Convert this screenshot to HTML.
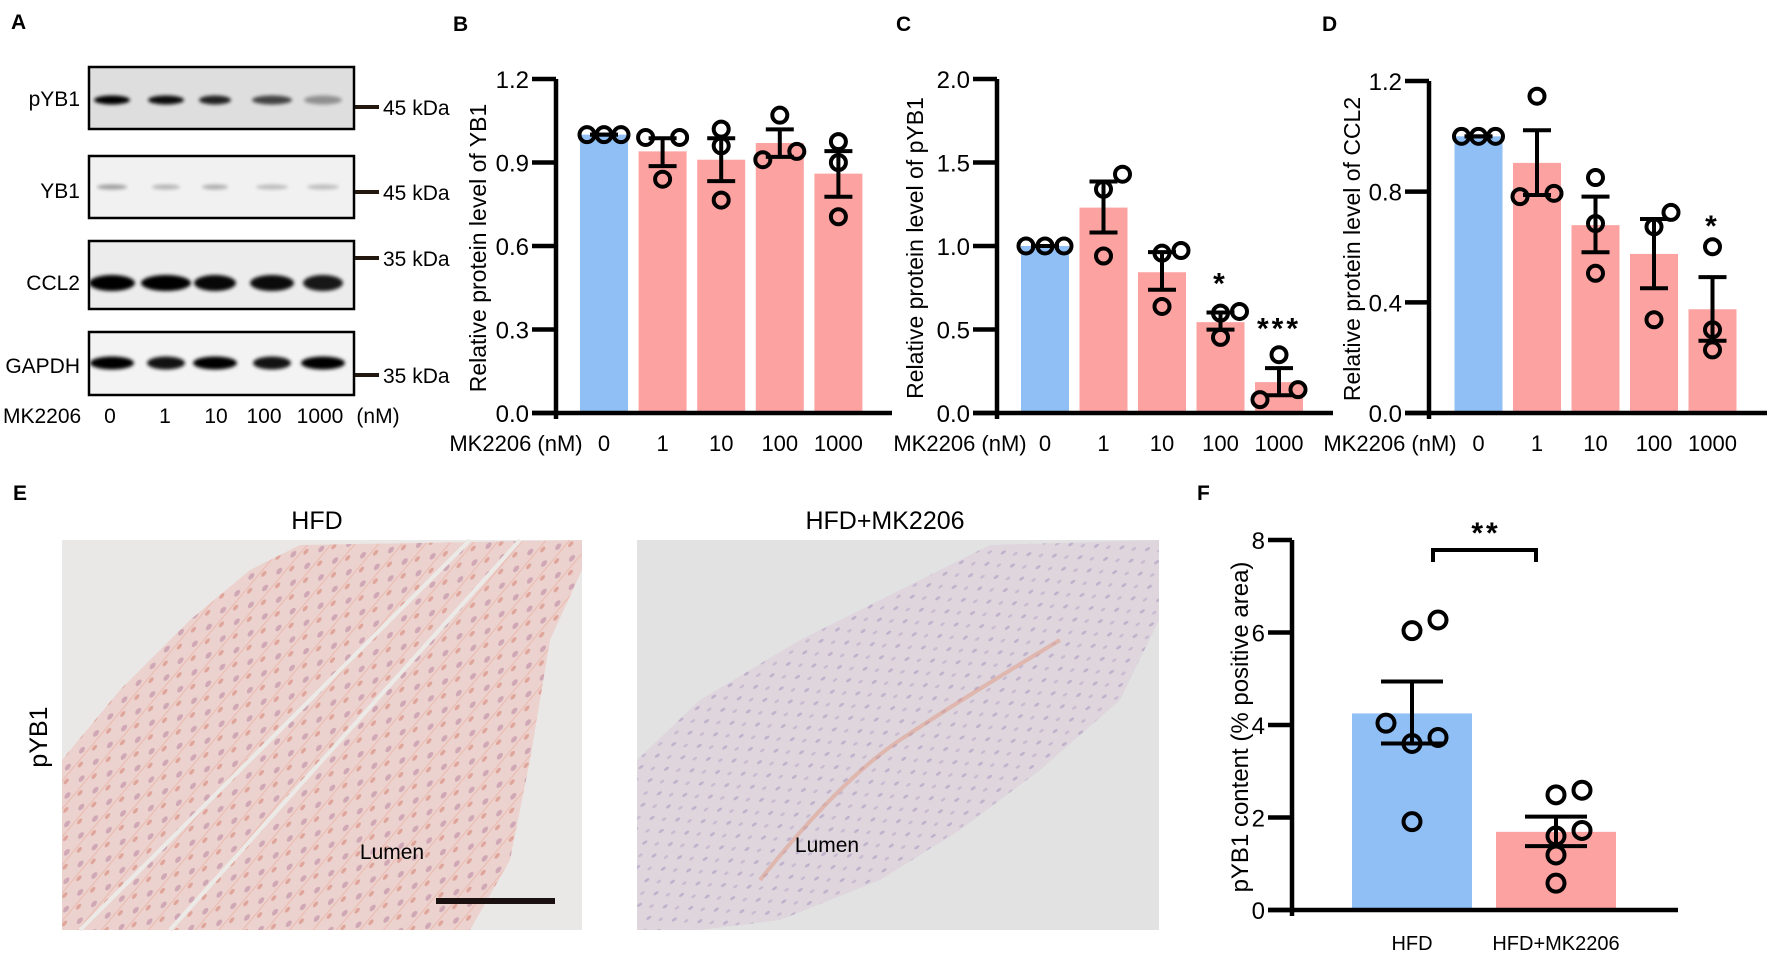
<!DOCTYPE html>
<html><head><meta charset="utf-8">
<style>
html,body{margin:0;padding:0;background:#fff;}
svg{display:block;font-family:"Liberation Sans",Arial,sans-serif;}
</style></head>
<body>
<svg id="fig" width="1772" height="954" viewBox="0 0 1772 954" xmlns="http://www.w3.org/2000/svg">
<defs>
  <filter id="blur2" x="-30%" y="-80%" width="160%" height="260%"><feGaussianBlur stdDeviation="1.8"/></filter>
  <pattern id="cellsPink" width="22" height="18" patternUnits="userSpaceOnUse" patternTransform="rotate(-50)">
    <rect width="22" height="18" fill="#ecd0cc"/>
    <ellipse cx="6" cy="5" rx="4" ry="2.2" fill="#b47a98" opacity="0.55"/>
    <ellipse cx="16" cy="13" rx="3.5" ry="1.8" fill="#cf6a58" opacity="0.5"/>
    <rect x="0" y="9" width="22" height="1.2" fill="#e8907a" opacity="0.4"/>
  </pattern>
  <pattern id="cellsLav" width="20" height="16" patternUnits="userSpaceOnUse" patternTransform="rotate(-35)">
    <rect width="20" height="16" fill="#ddd4dc"/>
    <ellipse cx="5" cy="4" rx="3" ry="1.4" fill="#9a84b8" opacity="0.5"/>
    <ellipse cx="14" cy="12" rx="2.6" ry="1.2" fill="#a890c0" opacity="0.45"/>
  </pattern>
  <clipPath id="clipB0"><rect x="89" y="67" width="265" height="62"/></clipPath>
  <clipPath id="clipB1"><rect x="89" y="156" width="265" height="62"/></clipPath>
  <clipPath id="clipB2"><rect x="89" y="241" width="265" height="68"/></clipPath>
  <clipPath id="clipB3"><rect x="89" y="332" width="265" height="63"/></clipPath>
</defs>

<text x="11" y="29" font-size="21" font-weight="bold">A</text>
<text x="453" y="31" font-size="21" font-weight="bold">B</text>
<text x="896" y="31" font-size="21" font-weight="bold">C</text>
<text x="1322" y="31" font-size="21" font-weight="bold">D</text>
<text x="13" y="500" font-size="21" font-weight="bold">E</text>
<text x="1197" y="500" font-size="21" font-weight="bold">F</text>

<g id="blots"></g>

<g>
  <text x="317" y="529" font-size="25" text-anchor="middle">HFD</text>
  <text x="885" y="529" font-size="25" text-anchor="middle">HFD+MK2206</text>
  <text transform="translate(47,737) rotate(-90)" font-size="25" text-anchor="middle">pYB1</text>
  <g>
    <rect x="62" y="540" width="520" height="390" fill="#e9e8e6"/>
    <polygon points="62,930 62,760 120,690 190,620 250,570 300,545 582,540 582,570 550,640 530,760 510,860 470,930" fill="url(#cellsPink)" opacity="0.9"/>
    <line x1="80" y1="930" x2="470" y2="540" stroke="#eceae7" stroke-width="4"/>
    <line x1="170" y1="930" x2="520" y2="540" stroke="#eceae7" stroke-width="4"/>
    <rect x="436" y="898" width="119" height="6" fill="#1a1010"/>
    <text x="392" y="859" font-size="21" text-anchor="middle">Lumen</text>
  </g>
  <g>
    <rect x="637" y="540" width="522" height="390" fill="#e2e2e2"/>
    <polygon points="637,760 700,700 800,640 900,590 990,545 1159,540 1159,620 1120,700 1040,770 960,830 880,880 780,920 700,930 637,930" fill="url(#cellsLav)" opacity="0.9"/>
    <path d="M760,880 Q840,780 900,740 T1060,640" stroke="#e09a80" stroke-width="4" fill="none" opacity="0.5"/>
    <text x="827" y="852" font-size="21" text-anchor="middle">Lumen</text>
  </g>
</g>

<g id="chartB"></g>
<g id="chartC"></g>
<g id="chartD"></g>
<g id="chartF"></g>
</svg>

<script>
// ---------- data ----------
const doseLabels = ["0", "1", "10", "100", "1000"];

const bMeans = [1.0, 0.94, 0.91, 0.97, 0.86];
const bPoints = [[1, 1, 1], [0.99, 0.84, 0.99], [1.02, 0.96, 0.765], [1.07, 0.91, 0.94], [0.975, 0.90, 0.705]];
const bJitter = [[-1, 0, 1], [-1, 0, 1], [0, 0, 0], [0, -1, 1], [0, 0, 0]];
const bErrHi = [1.0, 0.987, 0.987, 1.019, 0.941];
const bErrLo = [1.0, 0.887, 0.833, 0.92, 0.777];
const bTicks = [0, 0.3, 0.6, 0.9, 1.2];
const bTickLabels = ["0.0", "0.3", "0.6", "0.9", "1.2"];
const bSig = ["", "", "", "", ""];
const bSigVal = [0, 0, 0, 0, 0];

const cMeans = [1.0, 1.23, 0.843, 0.544, 0.185];
const cPoints = [[1, 1, 1], [1.34, 1.43, 0.94], [0.957, 0.973, 0.638], [0.598, 0.608, 0.453], [0.349, 0.08, 0.14]];
const cJitter = [[-1, 0, 1], [0, 1, 0], [0, 1, 0], [0, 1, 0], [0, -1, 1]];
const cErrHi = [1.0, 1.386, 0.963, 0.602, 0.269];
const cErrLo = [1.0, 1.081, 0.738, 0.499, 0.106];
const cTicks = [0, 0.5, 1.0, 1.5, 2.0];
const cTickLabels = ["0.0", "0.5", "1.0", "1.5", "2.0"];
const cSig = ["", "", "", "*", "***"];
const cSigVal = [0, 0, 0, 0.80, 0.53];

const dMeans = [1.0, 0.904, 0.679, 0.575, 0.375];
const dPoints = [[1, 1, 1], [1.145, 0.782, 0.794], [0.851, 0.685, 0.505], [0.725, 0.673, 0.337], [0.601, 0.301, 0.228]];
const dJitter = [[-1, 0, 1], [0, -1, 1], [0, 0, 0], [1, 0, 0], [0, 0, 0]];
const dErrHi = [1.0, 1.022, 0.782, 0.701, 0.491];
const dErrLo = [1.0, 0.788, 0.581, 0.451, 0.261];
const dTicks = [0, 0.4, 0.8, 1.2];
const dTickLabels = ["0.0", "0.4", "0.8", "1.2"];
const dSig = ["", "", "", "", "*"];
const dSigVal = [0, 0, 0, 0, 0.69];

const fGroups = ["HFD", "HFD+MK2206"];
const fMeans = [4.25, 1.69];
const fPoints = [[6.04, 6.27, 4.04, 3.6, 3.73, 1.91], [2.49, 2.59, 1.6, 1.72, 1.19, 0.58]];
const fJitter = [[0, 1, -1, 0, 1, 0], [0, 1, 0, 1, 0, 0]];
const fErrHi = [4.94, 2.02];
const fErrLo = [3.6, 1.38];
const fTicks = [0, 2, 4, 6, 8];
const fTickLabels = ["0", "2", "4", "6", "8"];

const blotNames = ["pYB1", "YB1", "CCL2", "GAPDH"];
const blotIntensity = [[1, 0.95, 0.85, 0.7, 0.35], [0.35, 0.25, 0.28, 0.22, 0.22], [1, 1, 0.97, 0.95, 0.9], [1, 0.92, 1, 0.92, 1]];
const markerLabels = ["45 kDa", "45 kDa", "35 kDa", "35 kDa"];

// ---------- helpers ----------
const NS = "http://www.w3.org/2000/svg";
function mk(parent, tag, attrs, text) {
  const e = document.createElementNS(NS, tag);
  for (const k in attrs) e.setAttribute(k, attrs[k]);
  if (text !== undefined) e.textContent = text;
  parent.appendChild(e);
  return e;
}
const BLUE = "#90bff6", PINK = "#fca3a1";

function barChart(gid, cfg) {
  const g = document.getElementById(gid);
  const yScale = v => cfg.y0 - (v / cfg.max) * (cfg.y0 - cfg.yTop);
  const xScale = i => cfg.x0 + i * cfg.step;
  cfg.means.forEach((m, i) => {
    const r = mk(g, "rect", {x: xScale(i) - cfg.bw / 2, y: yScale(m), width: cfg.bw, height: cfg.y0 - yScale(m), fill: i === 0 ? BLUE : PINK});
    
    
  });
  const ya = mk(g, "line", {x1: cfg.ax, y1: cfg.yTop, x2: cfg.ax, y2: cfg.y0 + 6, stroke: "#000", "stroke-width": 4.5});
  
  
  const xa = mk(g, "line", {x1: cfg.ax - 24, y1: cfg.y0, x2: cfg.xEnd, y2: cfg.y0, stroke: "#000", "stroke-width": 4.5});
  
  
  cfg.ticks.forEach((t, i) => {
    const y = yScale(t);
    const tl = mk(g, "line", {x1: cfg.ax - 24, y1: y, x2: cfg.ax, y2: y, stroke: "#000", "stroke-width": 4.5});
    
    
    const tx = mk(g, "text", {x: cfg.ax - 27, y: y + 9, "font-size": cfg.tickFont, "text-anchor": "end"}, cfg.tickLabels[i]);
    
    
  });
  const yt = mk(g, "text", {transform: `translate(${cfg.titleX},${(cfg.yTop + cfg.y0) / 2 + 2}) rotate(-90)`, "font-size": cfg.titleFont, "text-anchor": "middle"}, cfg.title);
  
  
  cfg.cats.forEach((c, i) => {
    const t = mk(g, "text", {x: xScale(i), y: cfg.xLabY, "font-size": cfg.xFont, "text-anchor": "middle"}, c);
    
    
  });
  if (cfg.xTitle) {
    const t = mk(g, "text", {x: cfg.xTitleX, y: cfg.xLabY, "font-size": cfg.xFont, "text-anchor": "middle"}, cfg.xTitle);
    
    
  }
  cfg.means.forEach((m, i) => {
    const x = xScale(i);
    const hi = yScale(cfg.errHi[i]), lo = yScale(cfg.errLo[i]);
    const eg = mk(g, "g", {stroke: "#000", "stroke-width": 4});
    
    
    mk(eg, "line", {x1: x, y1: hi, x2: x, y2: lo});
    mk(eg, "line", {x1: x - cfg.cap, y1: hi, x2: x + cfg.cap, y2: hi});
    mk(eg, "line", {x1: x - cfg.cap, y1: lo, x2: x + cfg.cap, y2: lo});
  });
  cfg.points.forEach((pts, i) => {
    pts.forEach((v, j) => {
      const c = mk(g, "circle", {cx: xScale(i) + cfg.jitter[i][j] * cfg.jit, cy: yScale(v), r: cfg.pr, fill: "none", stroke: "#000", "stroke-width": 4});
      
      
    });
  });
  if (cfg.sig) cfg.sig.forEach((s, i) => {
    if (!s) return;
    const t = mk(g, "text", {x: xScale(i), y: yScale(cfg.sigVal[i]) + 14, "font-size": 30, "font-weight": "bold", "text-anchor": "middle", "letter-spacing": 3}, s);
    
    
  });
  return {yScale, xScale, g};
}

barChart("chartB", {x0: 604, step: 58.6, bw: 48, ax: 556, y0: 413, yTop: 79, max: 1.2, xEnd: 892,
  means: bMeans, points: bPoints, jitter: bJitter, errHi: bErrHi, errLo: bErrLo, ticks: bTicks, tickLabels: bTickLabels,
  sig: bSig, sigVal: bSigVal, cats: doseLabels, title: "Relative protein level of YB1", titleX: 486, titleFont: 23,
  tickFont: 24, xFont: 22, xLabY: 451, xTitle: "MK2206 (nM)", xTitleX: 516, cap: 14, jit: 17, pr: 7.5});

barChart("chartC", {x0: 1045, step: 58.5, bw: 48, ax: 997, y0: 413, yTop: 79, max: 2.0, xEnd: 1333,
  means: cMeans, points: cPoints, jitter: cJitter, errHi: cErrHi, errLo: cErrLo, ticks: cTicks, tickLabels: cTickLabels,
  sig: cSig, sigVal: cSigVal, cats: doseLabels, title: "Relative protein level of pYB1", titleX: 923, titleFont: 23,
  tickFont: 24, xFont: 22, xLabY: 451, xTitle: "MK2206 (nM)", xTitleX: 960, cap: 14, jit: 19, pr: 7.5});

barChart("chartD", {x0: 1478.5, step: 58.5, bw: 48, ax: 1429, y0: 413, yTop: 81, max: 1.2, xEnd: 1767,
  means: dMeans, points: dPoints, jitter: dJitter, errHi: dErrHi, errLo: dErrLo, ticks: dTicks, tickLabels: dTickLabels,
  sig: dSig, sigVal: dSigVal, cats: doseLabels, title: "Relative protein level of CCL2", titleX: 1360, titleFont: 23,
  tickFont: 24, xFont: 22, xLabY: 451, xTitle: "MK2206 (nM)", xTitleX: 1390, cap: 14, jit: 17, pr: 7.5});

const F = barChart("chartF", {x0: 1412, step: 144, bw: 120, ax: 1292, y0: 910, yTop: 540, max: 8, xEnd: 1678,
  means: fMeans, points: fPoints, jitter: fJitter, errHi: fErrHi, errLo: fErrLo, ticks: fTicks, tickLabels: fTickLabels,
  sig: null, sigVal: null, cats: fGroups, title: "pYB1 content (% positive area)", titleX: 1248, titleFont: 24,
  tickFont: 24, xFont: 20, xLabY: 950, xTitle: "", xTitleX: 0, cap: 31, jit: 26, pr: 8.5});
{
  const br = mk(F.g, "path", {d: "M1433,562 L1433,550 L1536,550 L1536,562", fill: "none", stroke: "#000", "stroke-width": 4});
  
  
  const st = mk(F.g, "text", {x: 1486, y: 543, "font-size": 30, "font-weight": "bold", "text-anchor": "middle", "letter-spacing": 3}, "**");
  
  
}

// ---------- Panel A blots ----------
(function () {
  const g = document.getElementById("blots");
  const boxes = [[67, 129], [156, 218], [241, 309], [332, 395]];
  const bandY = [100, 187, 283, 363];
  const bandH = [4.5, 2.5, 8, 6.5];
  const fills = ["#dedede", "#f1f1f1", "#ececec", "#f3f3f3"];
  const labelY = [106, 198, 290, 373];
  const markerY = [107, 192, 258, 375];
  const lanes = [112, 166, 215, 272, 323];
  const bandW = [[18, 18, 16, 20, 19], [15, 14, 13, 16, 16], [23, 25, 21, 22, 20], [22, 19, 22, 19, 22]];
  boxes.forEach((b, k) => {
    const bg = mk(g, "g", {});
    
    
    mk(bg, "rect", {x: 89, y: b[0], width: 265, height: b[1] - b[0], fill: fills[k]});
    const bands = mk(bg, "g", {"clip-path": "url(#clipB" + k + ")"});
    lanes.forEach((lx, i) => {
      const e = mk(bands, "ellipse", {cx: lx, cy: bandY[k], rx: bandW[k][i], ry: bandH[k], fill: "#000", opacity: blotIntensity[k][i], filter: "url(#blur2)"});
      
      
    });
    mk(bg, "rect", {x: 89, y: b[0], width: 265, height: b[1] - b[0], fill: "none", stroke: "#000", "stroke-width": 2.5});
    const lab = mk(g, "text", {x: 80, y: labelY[k], "font-size": 21, "text-anchor": "end"}, blotNames[k]);
    
    
    const ml = mk(g, "rect", {x: 355, y: markerY[k] - 2, width: 24, height: 4, fill: "#221810"});
    
    
    const mt = mk(g, "text", {x: 383, y: markerY[k] + 8, "font-size": 21}, markerLabels[k]);
    
    
  });
  const t0 = mk(g, "text", {x: 3, y: 423, "font-size": 21}, "MK2206");
  
  
  const dx = [110, 165, 216, 264, 320];
  doseLabels.forEach((d, i) => {
    const t = mk(g, "text", {x: dx[i], y: 423, "font-size": 21, "text-anchor": "middle"}, d);
    
    
  });
  const u = mk(g, "text", {x: 378, y: 423, "font-size": 21, "text-anchor": "middle"}, "(nM)");
  
  
})();
</script>
</body></html>
